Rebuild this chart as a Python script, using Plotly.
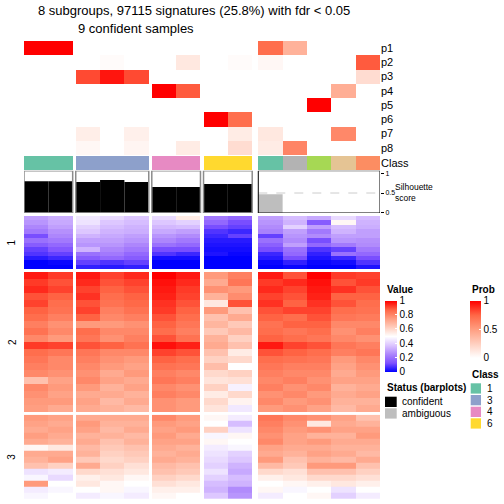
import plotly.graph_objects as go

W = H = 504

# ---------------- data ----------------
title_line1 = "8 subgroups, 97115 signatures (25.8%) with fdr &lt; 0.05"
title_line2 = "9 confident samples"

group_sizes = [2, 3, 2, 2, 5]
group_gaps = [0.125, 0.125, 0.125, 0.25]
sample_class = [1, 1, 3, 3, 3, 4, 4, 6, 6, 1, 8, 5, 7, 2]
sample_status = ["confident"] * 9 + ["ambiguous"] * 5
silhouette = [0.80, 0.80, 0.78, 0.83, 0.78, 0.65, 0.65, 0.73, 0.73, 0.47, 0, 0, 0, 0]

prob_rows = ["p1", "p2", "p3", "p4", "p5", "p6", "p7", "p8"]
prob = [
    [1, 1, 0, 0, 0, 0, 0, 0, 0, 0.72, 0.40, 0, 0, 0],
    [0, 0, 0, 0.02, 0, 0, 0.12, 0, 0.02, 0.04, 0, 0, 0, 0.78],
    [0, 0, 0.82, 0.95, 0.82, 0, 0, 0, 0, 0, 0, 0, 0, 0.18],
    [0, 0, 0, 0, 0, 1, 0.78, 0, 0, 0, 0, 0, 0.42, 0],
    [0, 0, 0, 0, 0, 0, 0, 0, 0, 0, 0, 1, 0, 0],
    [0, 0, 0, 0, 0, 0, 0, 1, 0.72, 0, 0, 0, 0, 0],
    [0, 0, 0.09, 0, 0.08, 0, 0, 0, 0.10, 0.12, 0, 0, 0.60, 0],
    [0, 0, 0.04, 0, 0.05, 0, 0.10, 0, 0.18, 0.10, 0.62, 0, 0, 0],
]

class_colors = {1: "#66C2A5", 2: "#FC8D62", 3: "#8DA0CB", 4: "#E78AC3",
                5: "#A6D854", 6: "#FFD92F", 7: "#E5C494", 8: "#B3B3B3"}
legend_classes = [1, 3, 4, 6]
status_colors = {"confident": "#000000", "ambiguous": "#BEBEBE"}

value_block1 = [
    [0.30, 0.33, 0.45, 0.42, 0.38, 0.42, 0.55, 0.22, 0.18, 0.30, 0.36, 0.32, 0.42, 0.36],
    [0.28, 0.32, 0.44, 0.38, 0.36, 0.38, 0.40, 0.18, 0.12, 0.28, 0.34, 0.15, 0.52, 0.34],
    [0.25, 0.30, 0.40, 0.36, 0.34, 0.35, 0.36, 0.12, 0.10, 0.26, 0.40, 0.30, 0.36, 0.33],
    [0.22, 0.27, 0.38, 0.34, 0.33, 0.32, 0.30, 0.08, 0.06, 0.24, 0.30, 0.22, 0.34, 0.30],
    [0.12, 0.25, 0.34, 0.32, 0.30, 0.28, 0.26, 0.06, 0.10, 0.10, 0.28, 0.26, 0.30, 0.30],
    [0.20, 0.22, 0.30, 0.30, 0.28, 0.25, 0.22, 0.04, 0.04, 0.20, 0.26, 0.12, 0.28, 0.27],
    [0.15, 0.18, 0.28, 0.28, 0.25, 0.20, 0.18, 0.03, 0.03, 0.16, 0.30, 0.18, 0.22, 0.26],
    [0.10, 0.14, 0.34, 0.25, 0.22, 0.12, 0.12, 0.02, 0.02, 0.12, 0.20, 0.08, 0.10, 0.22],
    [0.08, 0.10, 0.20, 0.22, 0.18, 0.08, 0.06, 0.03, 0.01, 0.06, 0.18, 0.05, 0.20, 0.18],
    [0.04, 0.06, 0.15, 0.18, 0.15, 0.02, 0.02, 0.00, 0.00, 0.04, 0.12, 0.03, 0.06, 0.12],
    [0.00, 0.01, 0.10, 0.08, 0.10, 0.00, 0.00, 0.00, 0.00, 0.01, 0.05, 0.01, 0.02, 0.08],
    [0.00, 0.00, 0.05, 0.04, 0.05, 0.00, 0.00, 0.00, 0.00, 0.00, 0.01, 0.00, 0.00, 0.03],
]
value_block2 = [
    [0.97, 0.93, 0.97, 0.92, 0.95, 1.00, 0.97, 0.76, 0.82, 0.97, 0.90, 1.00, 0.93, 0.92],
    [0.93, 0.90, 0.95, 0.90, 0.92, 0.98, 0.95, 0.72, 0.84, 0.93, 0.95, 0.98, 0.90, 0.93],
    [0.95, 0.92, 0.92, 0.88, 0.90, 0.97, 0.93, 0.78, 0.76, 0.95, 0.92, 0.97, 0.94, 0.90],
    [0.90, 0.88, 0.94, 0.86, 0.88, 0.96, 0.92, 0.70, 0.79, 0.92, 0.90, 0.96, 0.88, 0.88],
    [0.92, 0.86, 0.90, 0.85, 0.87, 0.94, 0.90, 0.56, 0.90, 0.94, 0.88, 0.94, 0.90, 0.86],
    [0.88, 0.85, 0.92, 0.82, 0.85, 0.93, 0.88, 0.76, 0.66, 0.90, 0.92, 0.92, 0.86, 0.85],
    [0.86, 0.82, 0.88, 0.80, 0.82, 0.90, 0.86, 0.66, 0.72, 0.88, 0.86, 0.90, 0.84, 0.83],
    [0.82, 0.78, 0.76, 0.76, 0.78, 0.88, 0.84, 0.69, 0.64, 0.85, 0.88, 0.88, 0.80, 0.80],
    [0.85, 0.80, 0.86, 0.80, 0.80, 0.86, 0.82, 0.64, 0.68, 0.86, 0.84, 0.86, 0.78, 0.82],
    [0.80, 0.76, 0.84, 0.78, 0.82, 0.90, 0.85, 0.70, 0.62, 0.88, 0.86, 0.84, 0.80, 0.78],
    [0.93, 0.92, 0.90, 0.88, 0.85, 0.98, 0.96, 0.72, 0.66, 0.97, 0.92, 0.90, 0.84, 0.82],
    [0.86, 0.84, 0.84, 0.80, 0.80, 0.92, 0.90, 0.66, 0.55, 0.90, 0.88, 0.86, 0.82, 0.84],
    [0.84, 0.80, 0.82, 0.78, 0.76, 0.88, 0.86, 0.62, 0.60, 0.86, 0.85, 0.84, 0.76, 0.80],
    [0.82, 0.80, 0.80, 0.76, 0.74, 0.85, 0.84, 0.67, 0.50, 0.84, 0.82, 0.82, 0.74, 0.78],
    [0.80, 0.78, 0.78, 0.72, 0.76, 0.82, 0.80, 0.60, 0.62, 0.82, 0.80, 0.80, 0.72, 0.76],
    [0.66, 0.74, 0.80, 0.74, 0.72, 0.84, 0.82, 0.57, 0.58, 0.80, 0.82, 0.78, 0.74, 0.74],
    [0.80, 0.76, 0.76, 0.70, 0.74, 0.80, 0.78, 0.62, 0.47, 0.82, 0.78, 0.80, 0.70, 0.72],
    [0.78, 0.74, 0.72, 0.72, 0.70, 0.82, 0.80, 0.55, 0.60, 0.78, 0.80, 0.76, 0.72, 0.74],
    [0.76, 0.76, 0.74, 0.68, 0.72, 0.78, 0.76, 0.60, 0.53, 0.80, 0.76, 0.78, 0.70, 0.70],
    [0.75, 0.72, 0.72, 0.70, 0.68, 0.78, 0.76, 0.57, 0.45, 0.76, 0.78, 0.74, 0.68, 0.72],
]
value_block3 = [
    [0.76, 0.74, 0.72, 0.72, 0.72, 0.80, 0.76, 0.52, 0.46, 0.84, 0.80, 0.78, 0.74, 0.66],
    [0.74, 0.72, 0.76, 0.70, 0.70, 0.76, 0.74, 0.50, 0.36, 0.82, 0.78, 0.56, 0.72, 0.70],
    [0.72, 0.74, 0.74, 0.68, 0.72, 0.74, 0.76, 0.62, 0.44, 0.80, 0.76, 0.78, 0.74, 0.74],
    [0.75, 0.72, 0.70, 0.70, 0.68, 0.76, 0.72, 0.48, 0.52, 0.78, 0.74, 0.70, 0.70, 0.76],
    [0.72, 0.70, 0.72, 0.66, 0.70, 0.74, 0.74, 0.52, 0.50, 0.80, 0.74, 0.76, 0.72, 0.72],
    [0.52, 0.56, 0.68, 0.64, 0.66, 0.72, 0.70, 0.46, 0.48, 0.74, 0.72, 0.72, 0.70, 0.70],
    [0.72, 0.72, 0.70, 0.62, 0.64, 0.70, 0.72, 0.44, 0.40, 0.72, 0.70, 0.74, 0.72, 0.68],
    [0.70, 0.74, 0.64, 0.60, 0.62, 0.72, 0.70, 0.42, 0.38, 0.76, 0.66, 0.70, 0.68, 0.72],
    [0.66, 0.62, 0.72, 0.62, 0.58, 0.68, 0.66, 0.40, 0.34, 0.68, 0.64, 0.76, 0.76, 0.66],
    [0.44, 0.46, 0.60, 0.58, 0.56, 0.66, 0.64, 0.44, 0.32, 0.60, 0.58, 0.66, 0.66, 0.62],
    [0.48, 0.42, 0.54, 0.56, 0.52, 0.62, 0.60, 0.40, 0.36, 0.54, 0.56, 0.60, 0.60, 0.58],
    [0.76, 0.50, 0.56, 0.52, 0.50, 0.58, 0.56, 0.36, 0.34, 0.50, 0.52, 0.54, 0.56, 0.54],
    [0.46, 0.48, 0.50, 0.52, 0.48, 0.54, 0.54, 0.34, 0.26, 0.52, 0.48, 0.50, 0.44, 0.50],
    [0.48, 0.50, 0.46, 0.48, 0.46, 0.52, 0.50, 0.38, 0.28, 0.46, 0.50, 0.52, 0.40, 0.46],
]
row_group_labels = ["1", "2", "3"]
value_ticks = [0, 0.2, 0.4, 0.6, 0.8, 1]
prob_ticks = [0, 0.5, 1]
sil_ticks = [0, 0.5, 1]

# ---------------- styling ----------------
FONT = "Liberation Sans, Arial, sans-serif"
value_scale = [[0, "#0000ff"], [0.125, "#7e51ff"], [0.25, "#ad86fc"], [0.375, "#dcc5ff"],
               [0.5, "#ffffff"], [0.625, "#ffcfbf"], [0.75, "#ff9e81"], [0.875, "#ff6746"],
               [1, "#ff0000"]]
prob_scale = [[0, "#ffffff"], [0.25, "#ffcfbf"], [0.5, "#ff9e81"], [0.75, "#ff6746"], [1, "#ff0000"]]
class_scale = []
for k in range(1, 9):
    class_scale.append([(k - 1) / 8, class_colors[k]])
    class_scale.append([k / 8, class_colors[k]])


def px(x):
    return x / W


def py(y):
    return 1 - y / H


# column edges with gap columns between groups
edges = [0.0]
col_slots = []
group_bounds = []
pos = 0.0
slot = 0
for gi, n in enumerate(group_sizes):
    start = pos
    for k in range(n):
        pos += 1
        edges.append(pos)
        col_slots.append(slot)
        slot += 1
    group_bounds.append((start, pos))
    if gi < len(group_gaps):
        pos += group_gaps[gi]
        edges.append(pos)
        slot += 1
total = pos
nslots = len(edges) - 1


def gapped(row):
    out = [None] * nslots
    for v, s in zip(row, col_slots):
        out[s] = v
    return out


centers = [(edges[s] + edges[s + 1]) / 2 for s in col_slots]

fig = go.Figure()

# probability heatmap
fig.add_trace(go.Heatmap(
    x=edges, y=list(range(len(prob_rows))), z=[gapped(r) for r in prob],
    colorscale=prob_scale, zmin=0, zmax=1, xaxis="x", yaxis="y", hoverongaps=False,
    showscale=True,
    colorbar=dict(x=px(470), xanchor="left", y=py(300.5), yanchor="top",
                  len=(357.5 - 300.5) / H, lenmode="fraction", thickness=11,
                  thicknessmode="pixels", xpad=0, ypad=0, outlinewidth=0,
                  tickvals=prob_ticks, ticktext=[str(t) for t in prob_ticks],
                  ticks="inside", ticklen=2, tickcolor="white",
                  tickfont=dict(size=10, family=FONT, color="black")),
))

# class bar
fig.add_trace(go.Heatmap(
    x=edges, y=[0], z=[gapped(sample_class)], colorscale=class_scale, zmin=0.5, zmax=8.5,
    showscale=False, xaxis="x", yaxis="y2", hoverongaps=False,
))

# silhouette bars
fig.add_trace(go.Bar(
    x=centers, y=silhouette, width=[1] * len(centers),
    marker=dict(color=[status_colors[s] for s in sample_status], line=dict(width=0)),
    xaxis="x", yaxis="y3", showlegend=False,
))

# main heatmap blocks
blocks = [value_block1, value_block2, value_block3]
for i, blk in enumerate(blocks):
    tr = go.Heatmap(
        x=edges, y=list(range(len(blk))), z=[gapped(r) for r in blk],
        colorscale=value_scale, zmin=0, zmax=1, xaxis="x", yaxis="y%d" % (4 + i),
        hoverongaps=False, showscale=(i == 0),
    )
    if i == 0:
        tr.colorbar = dict(x=px(385), xanchor="left", y=py(300.5), yanchor="top",
                           len=(371 - 300.5) / H, lenmode="fraction", thickness=12,
                           thicknessmode="pixels", xpad=0, ypad=0, outlinewidth=0,
                           tickvals=value_ticks, ticktext=[str(t) for t in value_ticks],
                           ticks="inside", ticklen=2, tickcolor="white",
                           tickfont=dict(size=10, family=FONT, color="black"))
    fig.add_trace(tr)

# silhouette range: 0 at 212.7px, 1 at 173.3px, panel 170.7..213
sil_unit = 212.7 - 173.3
sil_lo = -(213 - 212.7) / sil_unit
sil_hi = 1 + (173.3 - 170.7) / sil_unit

hidden = dict(visible=False, showgrid=False, zeroline=False, fixedrange=True)
layout = dict(
    width=W, height=H, margin=dict(l=0, r=0, t=0, b=0, autoexpand=False),
    paper_bgcolor="white", plot_bgcolor="rgba(0,0,0,0)",
    font=dict(family=FONT, color="black"), showlegend=False,
    xaxis=dict(domain=[px(24), px(380)], range=[0, total], **hidden),
    yaxis=dict(domain=[py(155), py(41)], range=[len(prob_rows) - 0.5, -0.5],
               tickvals=list(range(len(prob_rows))), ticktext=prob_rows, side="right",
               anchor="x", showgrid=False, zeroline=False, ticks="", showline=False,
               tickfont=dict(size=11), fixedrange=True),
    yaxis2=dict(domain=[py(170), py(156)], range=[0.5, -0.5], tickvals=[0],
                ticktext=["Class"], side="right", anchor="x", showgrid=False,
                zeroline=False, ticks="", tickfont=dict(size=11), fixedrange=True),
    yaxis3=dict(domain=[py(213), py(170.7)], range=[sil_lo, sil_hi], side="right",
                anchor="x", tickvals=sil_ticks, ticktext=[str(t) for t in sil_ticks],
                ticks="outside", ticklen=3, tickwidth=1, tickcolor="black",
                showgrid=False, zeroline=False, showline=False,
                tickfont=dict(size=7), fixedrange=True),
    yaxis4=dict(domain=[py(269.3), py(216)], range=[len(value_block1) - 0.5, -0.5],
                anchor="x", **hidden),
    yaxis5=dict(domain=[py(412), py(272)], range=[len(value_block2) - 0.5, -0.5],
                anchor="x", **hidden),
    yaxis6=dict(domain=[py(499), py(414.7)], range=[len(value_block3) - 0.5, -0.5],
                anchor="x", **hidden),
)
fig.update_layout(**layout)

shapes = []
# silhouette group boxes
for gi, (a, b) in enumerate(group_bounds):
    amb = gi == len(group_bounds) - 1
    shapes.append(dict(type="rect", xref="x", yref="y3", x0=a, x1=b, y0=sil_lo, y1=sil_hi,
                       line=dict(color="black" if amb else "#8c8c8c", width=1 if amb else 1.5),
                       fillcolor="rgba(0,0,0,0)", layer="above"))
a5, b5 = group_bounds[-1]
shapes.append(dict(type="line", xref="x", yref="y3", x0=a5, x1=b5, y0=0.5, y1=0.5,
                   line=dict(color="#cccccc", width=1, dash="dash"), layer="below"))

# legend swatches (paper coordinates)
class_swatch_tops = [383.3, 395.0, 406.7, 418.3]
for c, t in zip(legend_classes, class_swatch_tops):
    shapes.append(dict(type="rect", xref="paper", yref="paper", x0=px(470.7), x1=px(481),
                       y0=py(t + 10.3), y1=py(t), fillcolor=class_colors[c], line=dict(width=0)))
status_swatch_tops = [396.7, 408.3]
for s, t in zip(["confident", "ambiguous"], status_swatch_tops):
    shapes.append(dict(type="rect", xref="paper", yref="paper", x0=px(385), x1=px(396.7),
                       y0=py(t + 10.3), y1=py(t), fillcolor=status_colors[s], line=dict(width=0)))

annotations = []


def ann(text, x, y, size=10, xanchor="left", bold=False, angle=0):
    annotations.append(dict(text=("<b>%s</b>" % text) if bold else text, x=px(x), y=py(y),
                            xref="paper", yref="paper", xanchor=xanchor, yanchor="middle",
                            showarrow=False, textangle=angle, align="left",
                            font=dict(size=size, family=FONT, color="black")))


ann(title_line1, 193.5, 10, size=13, xanchor="center")
ann(title_line2, 136, 28, size=13, xanchor="center")
ann("Silhouette<br>score", 393, 192, size=8.5)
ann("Value", 385, 289, size=10, bold=True)
ann("Prob", 470, 289, size=10, bold=True)
ann("Class", 470, 374, size=10, bold=True)
ann("Status (barplots)", 385, 387.3, size=10, bold=True)
for c, t in zip(legend_classes, class_swatch_tops):
    ann(str(c), 485, t + 5.2, size=10)
for s, t in zip(["confident", "ambiguous"], status_swatch_tops):
    ann(s, 400, t + 5.2, size=10)
for lab, yc in zip(row_group_labels, [242.6, 342, 456.8]):
    ann(lab, 12, yc, size=10, xanchor="center", angle=-90)

fig.update_layout(shapes=shapes, annotations=annotations)
fig.write_html("out.html", config={"displayModeBar": False},
               post_script="document.body.style.margin='0px';document.body.style.overflow='hidden';")
